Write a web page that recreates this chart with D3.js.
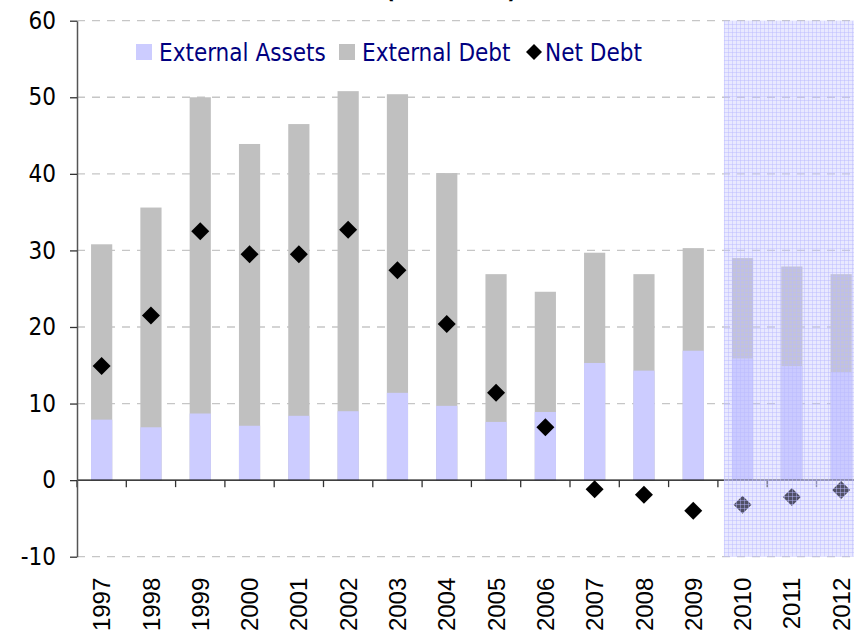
<!DOCTYPE html>
<html lang="en">
	<head>
		<meta charset="utf-8">
		<title>External Debt</title>
		<script src="https://cdnjs.cloudflare.com/ajax/libs/d3/7.8.5/d3.min.js"></script>
		<style>
			body { margin: 0; background: #fff; }
			svg { display: block; }
		</style>
	</head>
	<body>
		<div id="chart"></div>
		<script type="text/javascript">

			// values (percent of GDP)
			const years = ["1997","1998","1999","2000","2001","2002","2003","2004","2005","2006","2007","2008","2009","2010","2011","2012"];
			const externalAssets = [7.9, 6.9, 8.7, 7.1, 8.4, 9.0, 11.4, 9.7, 7.6, 8.9, 15.3, 14.3, 16.9, 15.9, 14.9, 14.1];
			const externalDebt = [30.8, 35.6, 50.0, 43.9, 46.5, 50.8, 50.4, 40.1, 26.9, 24.6, 29.7, 26.9, 30.3, 29.0, 27.9, 26.9];
			const netDebt = [14.9, 21.5, 32.5, 29.5, 29.5, 32.7, 27.4, 20.4, 11.4, 6.9, -1.2, -1.9, -4.0, -3.2, -2.2, -1.3];
			const yTicks = [-10, 0, 10, 20, 30, 40, 50, 60];
			const projectionYears = ["2010", "2011", "2012"];

			const width = 854;
			const height = 632;
			const marginLeft = 77;
			const yTop = 20.7;
			const yBottom = 556.7;
			const step = 49.3;
			const barRatio = 0.43;
			const labelFont = "'DejaVu Sans Condensed', 'DejaVu Sans', Verdana, sans-serif";

			const svg = d3.select("#chart")
				.append("svg")
				.attr("width", width)
				.attr("height", height);

			const xScale = d3.scaleBand()
				.domain(years)
				.range([marginLeft, marginLeft + step * years.length])
				.padding(0);

			const yScale = d3.scaleLinear()
				.domain([-10, 60])
				.range([yBottom, yTop]);

			const data = years.map((y, i) => ({
				year: y, assets: externalAssets[i], debt: externalDebt[i], net: netDebt[i]
			}));

			// grid pattern for the projection shading
			const defs = svg.append("defs");
			const pat = defs.append("pattern")
				.attr("id", "grid")
				.attr("width", 4)
				.attr("height", 4)
				.attr("patternUnits", "userSpaceOnUse");
			pat.append("rect")
				.attr("width", 4).attr("height", 4)
				.attr("fill", "rgb(200,200,255)")
				.attr("fill-opacity", 0.4);
			pat.append("path")
				.attr("d", "M0 0.5H4M0.5 0V4")
				.attr("stroke", "rgb(185,185,255)")
				.attr("stroke-opacity", 0.45)
				.attr("stroke-width", 1);

			// title (mostly outside the top edge, as in the original)
			svg.append("text")
				.attr("x", 517)
				.attr("y", -2)
				.attr("text-anchor", "end")
				.attr("font-family", labelFont)
				.attr("font-weight", "bold")
				.attr("font-size", 24)
				.text("External Debt (% of GDP)");

			// dashed gridlines
			svg.append("g")
				.selectAll("line")
				.data(yTicks.filter(d => d !== 0))
				.enter()
				.append("line")
					.attr("x1", marginLeft)
					.attr("x2", width)
					.attr("y1", d => yScale(d))
					.attr("y2", d => yScale(d))
					.attr("stroke", "#c6c6c6")
					.attr("stroke-width", 1.3)
					.attr("stroke-dasharray", "8,7");

			const bw = xScale.bandwidth() * barRatio;
			const bx = d => xScale(d.year) + (xScale.bandwidth() - bw) / 2;

			svg.append("g")
				.attr("class", "debt")
				.selectAll("rect")
				.data(data)
				.enter()
				.append("rect")
					.attr("x", bx)
					.attr("y", d => yScale(d.debt))
					.attr("width", bw)
					.attr("height", d => yScale(0) - yScale(d.debt))
					.attr("fill", "#c0c0c0");

			svg.append("g")
				.attr("class", "assets")
				.selectAll("rect")
				.data(data)
				.enter()
				.append("rect")
					.attr("x", bx)
					.attr("y", d => yScale(d.assets))
					.attr("width", bw)
					.attr("height", d => yScale(0) - yScale(d.assets))
					.attr("fill", "#ccccff");

			// x axis along zero, ticks at category boundaries
			const x0 = yScale(0);
			const bounds = d3.range(years.length + 1).map(i => xScale.range()[0] + i * xScale.step());
			const zeroAxis = svg.append("g").attr("class", "zero-axis");
			zeroAxis.append("line")
				.attr("x1", marginLeft)
				.attr("x2", width)
				.attr("y1", x0)
				.attr("y2", x0)
				.attr("stroke", "#000")
				.attr("stroke-width", 1.3);
			zeroAxis.selectAll(".tick")
				.data(bounds)
				.enter()
				.append("line")
					.attr("class", "tick")
					.attr("x1", d => d)
					.attr("x2", d => d)
					.attr("y1", x0)
					.attr("y2", x0 + 7)
					.attr("stroke", "#333")
					.attr("stroke-width", 1.3);

			// net debt diamonds
			const diamond = r => `M0,${-r}L${r},0L0,${r}L${-r},0Z`;
			svg.append("g")
				.attr("class", "net")
				.selectAll("path")
				.data(data)
				.enter()
				.append("path")
					.attr("d", diamond(9))
					.attr("transform", d => "translate(" + (xScale(d.year) + xScale.bandwidth() / 2) + "," + yScale(d.net) + ")")
					.attr("fill", "#000");

			// projection shading on top
			const shadeX = xScale(projectionYears[0]) + 6;
			svg.append("rect")
				.attr("x", shadeX)
				.attr("y", yScale(60))
				.attr("width", xScale(projectionYears[projectionYears.length - 1]) + xScale.bandwidth() - shadeX)
				.attr("height", yScale(-10) - yScale(60))
				.attr("fill", "url(#grid)");

			// y axis
			const yAxis = d3.axisLeft(yScale)
				.tickValues(yTicks)
				.tickFormat(d => String(d))
				.tickSize(7)
				.tickSizeOuter(0)
				.tickPadding(14);

			const yg = svg.append("g")
				.attr("transform", "translate(" + marginLeft + ",0)")
				.call(yAxis);
			yg.select(".domain").attr("stroke", "#555").attr("stroke-width", 1.5);
			yg.selectAll(".tick line").attr("stroke", "#333").attr("stroke-width", 1.3);
			yg.selectAll("text")
				.attr("font-family", labelFont)
				.attr("font-size", 24)
				.attr("fill", "#000");

			// year labels
			const xAxis = d3.axisBottom(xScale).tickSize(0).tickPadding(0);
			const xg = svg.append("g")
				.attr("transform", "translate(0," + yBottom + ")")
				.call(xAxis);
			xg.select(".domain").remove();
			xg.selectAll("text")
				.attr("transform", "rotate(-90)")
				.attr("x", -21)
				.attr("y", 0)
				.attr("dy", "0.36em")
				.attr("text-anchor", "end")
				.attr("font-family", "'Liberation Sans', Arial, sans-serif")
				.attr("font-size", 24)
				.attr("fill", "#000");

			// legend
			const legend = svg.append("g").attr("class", "legend");
			const legendItems = [
				{ label: "External Assets", color: "#ccccff", type: "rect", x: 136 },
				{ label: "External Debt", color: "#c0c0c0", type: "rect", x: 339 },
				{ label: "Net Debt", color: "#000", type: "diamond", x: 526 }
			];
			legendItems.forEach(item => {
				if (item.type === "rect") {
					legend.append("rect")
						.attr("x", item.x)
						.attr("y", 44)
						.attr("width", 16)
						.attr("height", 16)
						.attr("fill", item.color);
				} else {
					legend.append("path")
						.attr("d", diamond(8))
						.attr("transform", "translate(" + (item.x + 8) + ",52)")
						.attr("fill", item.color);
				}
				legend.append("text")
					.attr("x", item.x + (item.type === "rect" ? 23 : 19))
					.attr("y", 61)
					.attr("font-family", labelFont)
					.attr("font-size", 24)
					.attr("fill", "#000080")
					.text(item.label);
			});

		</script>
	</body>
</html>
